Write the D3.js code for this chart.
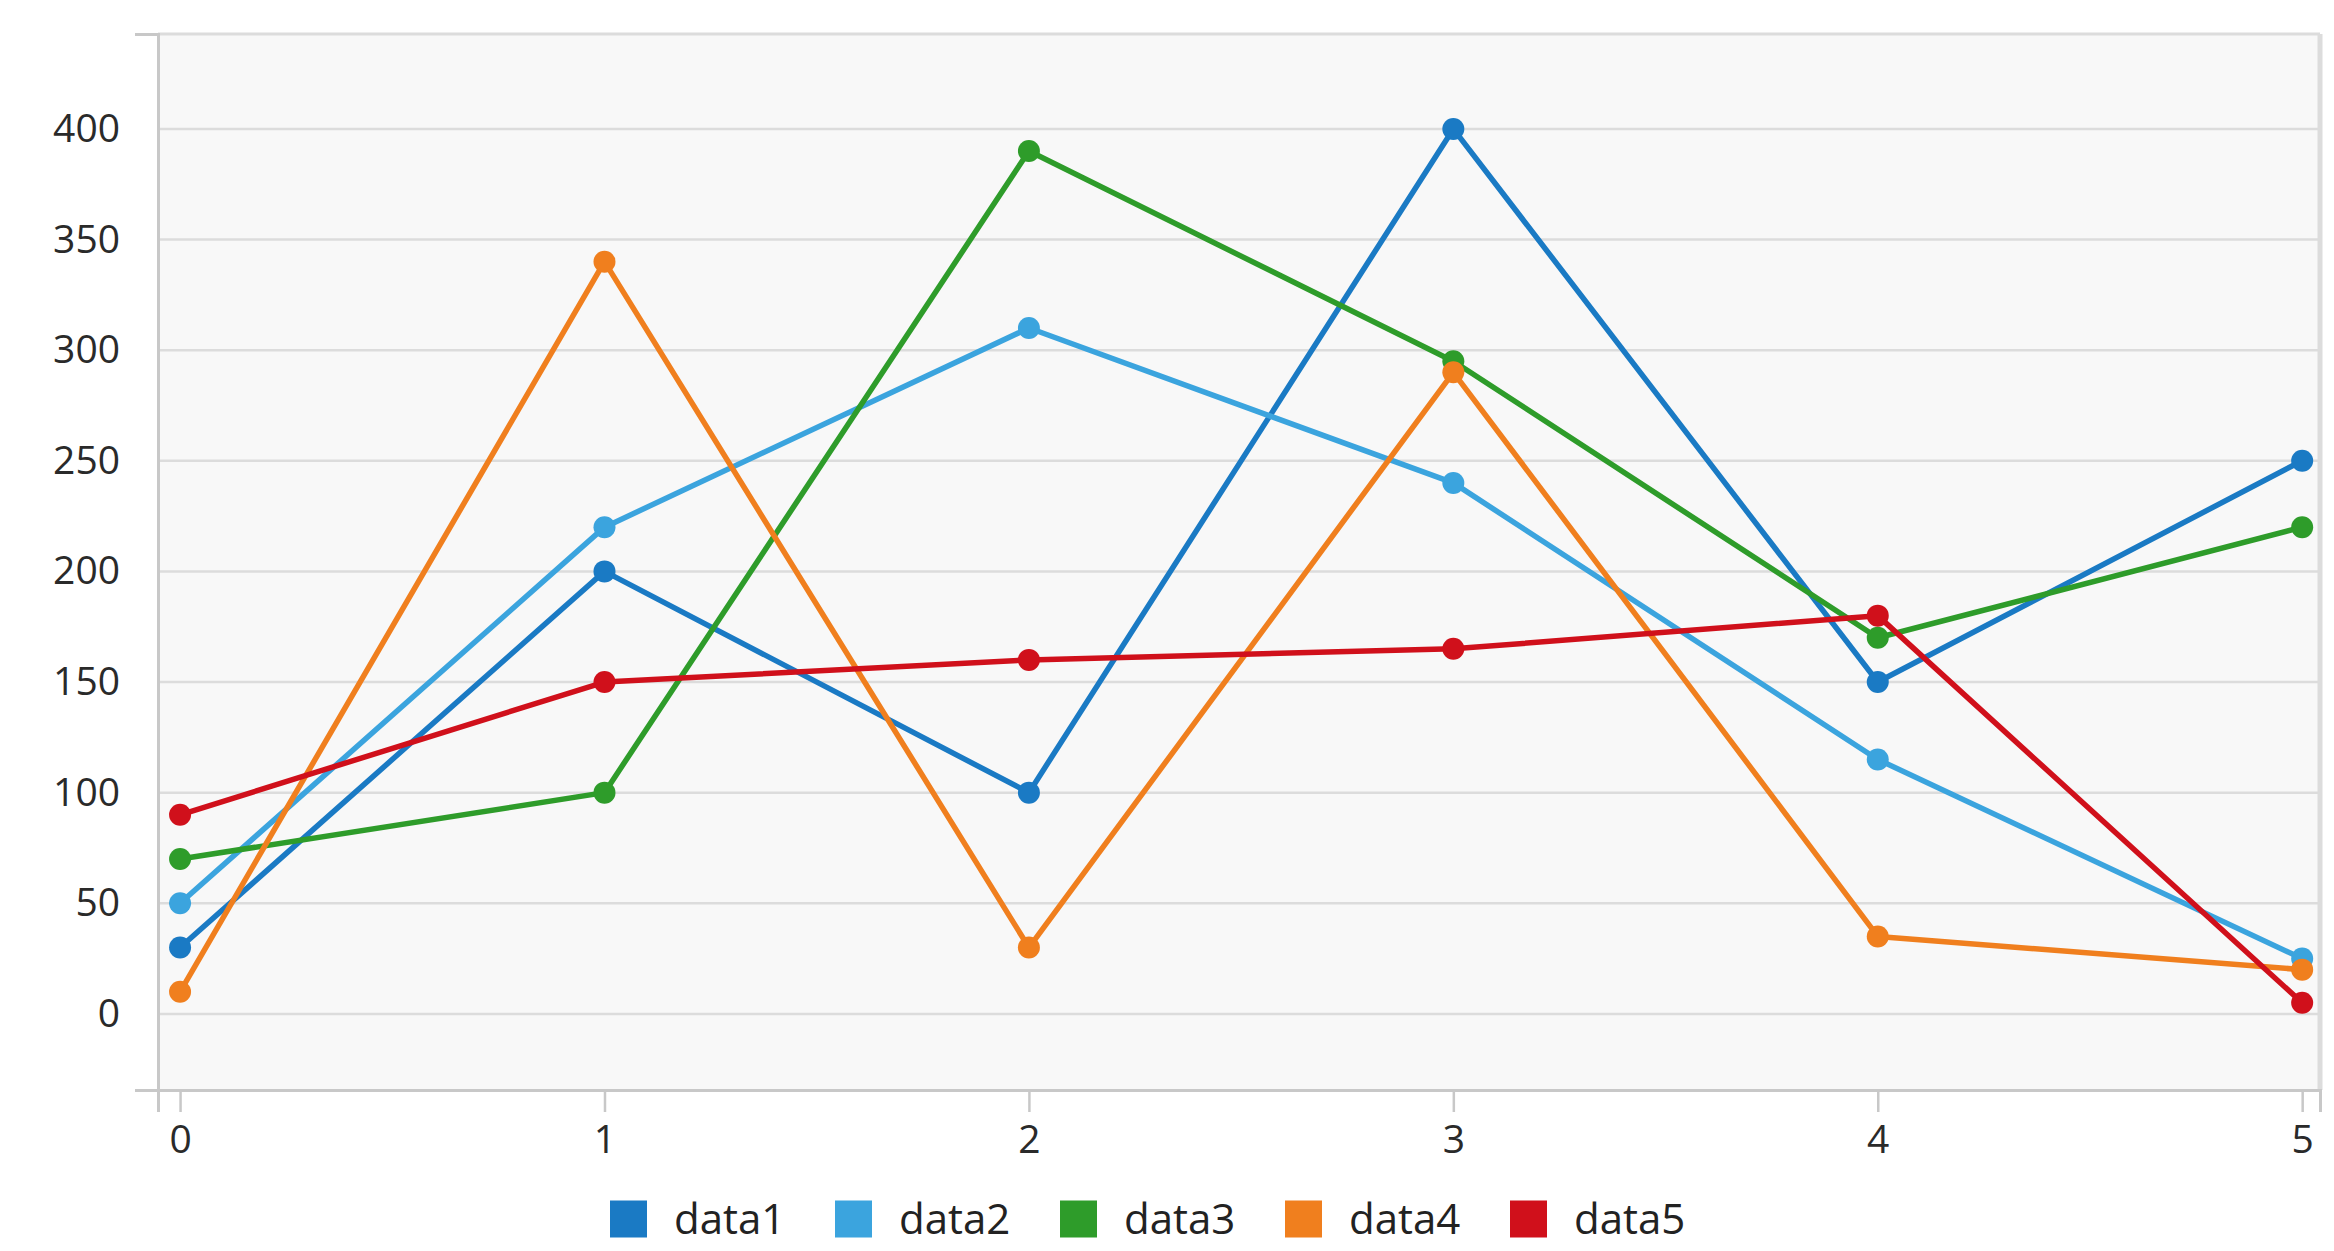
<!DOCTYPE html>
<html>
<head>
<meta charset="utf-8">
<script src="https://cdn.jsdelivr.net/npm/d3@7"></script>
<style>
html,body{margin:0;padding:0;background:#fff;}
svg{display:block;font-family:"Open Sans",sans-serif;}
</style>
</head>
<body>
<svg id="chart" width="2334" height="1251"></svg>
<script>
const xValues = [0, 1, 2, 3, 4, 5];
const seriesNames = ["data1", "data2", "data3", "data4", "data5"];
const data1 = [30, 200, 100, 400, 150, 250];
const data2 = [50, 220, 310, 240, 115, 25];
const data3 = [70, 100, 390, 295, 170, 220];
const data4 = [10, 340, 30, 290, 35, 20];
const data5 = [90, 150, 160, 165, 180, 5];
const seriesColors = ["#1a7ac4", "#3ba4de", "#2e9c2a", "#f07f1e", "#d0101b"];
const yTicks = [0, 50, 100, 150, 200, 250, 300, 350, 400];
const xTicks = [0, 1, 2, 3, 4, 5];

const series = [data1, data2, data3, data4, data5].map((vals, i) => ({
  name: seriesNames[i], color: seriesColors[i],
  points: vals.map((v, j) => ({x: xValues[j], y: v}))
}));

const W = 2334, H = 1251;
const L = 158, R = 2320, T = 34, B = 1090;

const svg = d3.select("#chart");

const x = d3.scaleLinear().domain([-0.052, 5.042]).range([L, R]);
const y = d3.scaleLinear().domain([-34.4, 442.9]).range([B, T]);

// plot background
svg.append("rect").attr("x", L).attr("y", T).attr("width", R - L).attr("height", B - T)
  .attr("fill", "#f8f8f8");

// grid lines
svg.append("g").selectAll("line").data(yTicks).join("line")
  .attr("x1", L).attr("x2", R)
  .attr("y1", d => y(d)).attr("y2", d => y(d))
  .attr("stroke", "#dcdcdc").attr("stroke-width", 2.5);

// top & right border
svg.append("line").attr("x1", L).attr("x2", R).attr("y1", T).attr("y2", T)
  .attr("stroke", "#dcdcdc").attr("stroke-width", 3);
svg.append("line").attr("x1", R).attr("x2", R).attr("y1", T).attr("y2", B)
  .attr("stroke", "#dcdcdc").attr("stroke-width", 5);

// y axis
const yAxis = d3.axisLeft(y).tickValues(yTicks).tickSizeInner(0).tickSizeOuter(23).tickPadding(38);
const gy = svg.append("g").attr("transform", `translate(${L},0)`).call(yAxis);
gy.select(".domain").attr("stroke", "#c8c8c8").attr("stroke-width", 3);
gy.selectAll("text").attr("font-size", 39).attr("fill", "#2a2a2a").attr("font-family", "Open Sans");

// x axis
const xAxis = d3.axisBottom(x).tickValues(xTicks).tickFormat(d3.format("d"))
  .tickSizeInner(22).tickSizeOuter(22).tickPadding(13);
const gx = svg.append("g").attr("transform", `translate(0,${B})`).call(xAxis);
gx.select(".domain").attr("stroke", "#c8c8c8").attr("stroke-width", 3);
gx.selectAll(".tick line").attr("stroke", "#c8c8c8").attr("stroke-width", 2.5);
gx.selectAll("text").attr("font-size", 39).attr("fill", "#2a2a2a").attr("font-family", "Open Sans");

// lines
const line = d3.line().x(d => x(d.x)).y(d => y(d.y));
const gs = svg.append("g").selectAll("g").data(series).join("g");
gs.append("path").attr("d", d => line(d.points)).attr("fill", "none")
  .attr("stroke", d => d.color).attr("stroke-width", 5.5).attr("stroke-linejoin", "round");
gs.selectAll("circle").data(d => d.points.map(p => ({...p, color: d.color}))).join("circle")
  .attr("cx", d => x(d.x)).attr("cy", d => y(d.y)).attr("r", 11).attr("fill", d => d.color);

// legend
const legendStart = 610, legendPitch = 225, sq = 37, legendCy = 1219;
const lg = svg.append("g").selectAll("g").data(series).join("g")
  .attr("transform", (d, i) => `translate(${legendStart + i * legendPitch},${legendCy})`);
lg.append("rect").attr("x", 0).attr("y", -sq / 2).attr("width", sq).attr("height", sq)
  .attr("fill", d => d.color);
lg.append("text").attr("x", 64).attr("y", 0).attr("dy", "0.36em")
  .attr("font-size", 42).attr("fill", "#222").text(d => d.name);
</script>
</body>
</html>
